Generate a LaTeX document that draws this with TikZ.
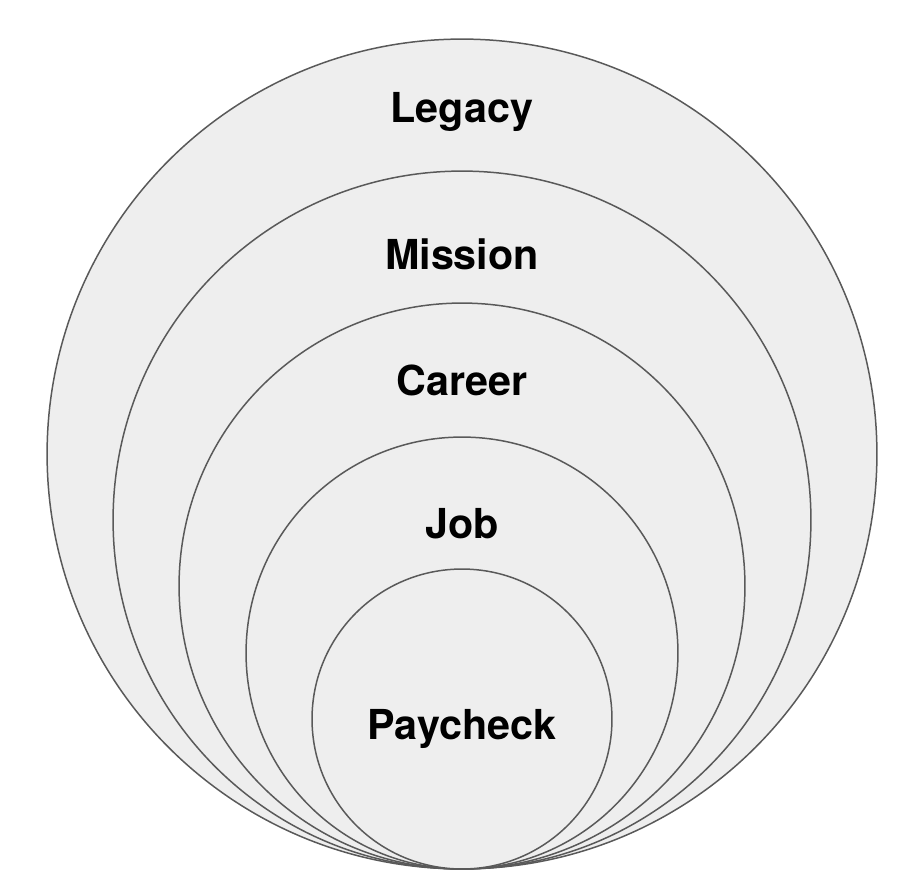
\documentclass[tikz,border=0pt]{standalone}
\usepackage{fontspec}
\setmainfont{TeX Gyre Heros}
\definecolor{ringfill}{HTML}{EEEEEE}
\definecolor{ringline}{HTML}{595959}
\tikzset{
  ring/.style={circle, draw=ringline, fill=ringfill, line width=0.85pt, inner sep=0pt},
  word/.style={anchor=base, font=\fontsize{23.5}{28}\selectfont\bfseries}
}

\begin{document}
\begin{tikzpicture}[x=0.02cm, y=-0.02cm]

\useasboundingbox (0,0) rectangle (916,894);

% Circles, all touching at the bottom
\node[ring, minimum size=16.60cm] (legacyring) at (462,454) {};
\node[ring, minimum size=13.96cm] (missionring) at (462,520) {};
\node[ring, minimum size=11.32cm] (careerring) at (462,586) {};
\node[ring, minimum size=8.64cm] (jobring) at (462,653) {};
\node[ring, minimum size=6.00cm] (paycheckring) at (462,719) {};

% Labels
\node[word] (legacy) at (462,122) {Legacy};
\node[word] (mission) at (462,269) {Mission};
\node[word] (career) at (462,395) {Career};
\node[word] (job) at (462,538) {Job};
\node[word] (paycheck) at (462,739) {Paycheck};

\end{tikzpicture}
\end{document}
